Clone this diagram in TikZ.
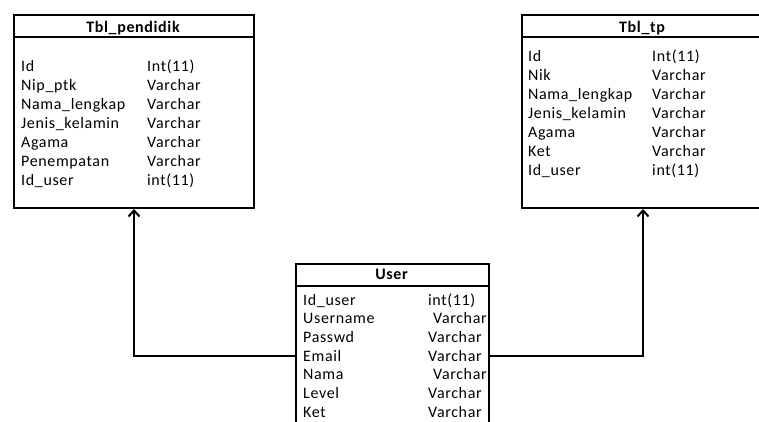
\documentclass[tikz,border=0pt]{standalone}
\usepackage{fontspec}
\setmainfont{Carlito}[LetterSpace=4]
\usetikzlibrary{arrows.meta}
\begin{document}
\begin{tikzpicture}[x=1pt,y=-1pt,
  tbl/.style={draw,line width=2pt,inner sep=0pt,fill=white,anchor=north west},
  sep/.style={line width=2pt},
  fld/.style={anchor=base west,inner sep=0pt,font=\fontsize{16}{19}\selectfont},
  hdr/.style={anchor=base,inner sep=0pt,font=\bfseries\fontsize{16}{19}\selectfont},
  conn/.style={line width=2pt,-{Straight Barb[length=6pt,width=11pt,line width=2pt]}}]
\useasboundingbox (0,0) rectangle (759,421);
\clip (0,0) rectangle (759,421);
% Tbl_pendidik
\node[tbl,minimum width=240pt,minimum height=193pt] (pend) at (13,14) {};
\draw[sep] (pend.west |- 0,37) -- (pend.east |- 0,37);
\node[hdr] (pendh) at (133,32) {Tbl\_pendidik};
\foreach \n/\t [count=\i] in {Id/Int(11),Nip\_ptk/Varchar,Nama\_lengkap/Varchar,Jenis\_kelamin/Varchar,Agama/Varchar,Penempatan/Varchar,Id\_user/int(11)}{
  \node[fld] (pn\i) at (21,{71+19*(\i-1)}) {\n};
  \node[fld] (pt\i) at (147,{71+19*(\i-1)}) {\t};
}
% Tbl_tp
\node[tbl,minimum width=242pt,minimum height=193pt] (tp) at (521,14) {};
\draw[sep] (tp.west |- 0,37) -- (tp.east |- 0,37);
\node[hdr] (tph) at (642,32) {Tbl\_tp};
\foreach \n/\t [count=\i] in {Id/Int(11),Nik/Varchar,Nama\_lengkap/Varchar,Jenis\_kelamin/Varchar,Agama/Varchar,Ket/Varchar,Id\_user/int(11)}{
  \node[fld] (tn\i) at (528,{61+19*(\i-1)}) {\n};
  \node[fld] (tt\i) at (652,{61+19*(\i-1)}) {\t};
}
% User
\node[tbl,minimum width=193pt,minimum height=200pt] (user) at (295,263) {};
\draw[sep] (user.west |- 0,286) -- (user.east |- 0,286);
\node[hdr] (userh) at (391.5,279) {User};
\foreach \n/\t/\o [count=\i] in {Id\_user/int(11)/428,Username/Varchar/433,Passwd/Varchar/428,Email/Varchar/428,Nama/Varchar/433,Level/Varchar/428,Ket/Varchar/428}{
  \node[fld] (un\i) at (303,{305+18.7*(\i-1)}) {\n};
  \node[fld] (ut\i) at (\o,{305+18.7*(\i-1)}) {\t};
}
% connectors
\draw[conn] (user.west |- 0,356) -| (pend.south);
\draw[conn] (user.east |- 0,356) -| (tp.south);
\end{tikzpicture}
\end{document}
